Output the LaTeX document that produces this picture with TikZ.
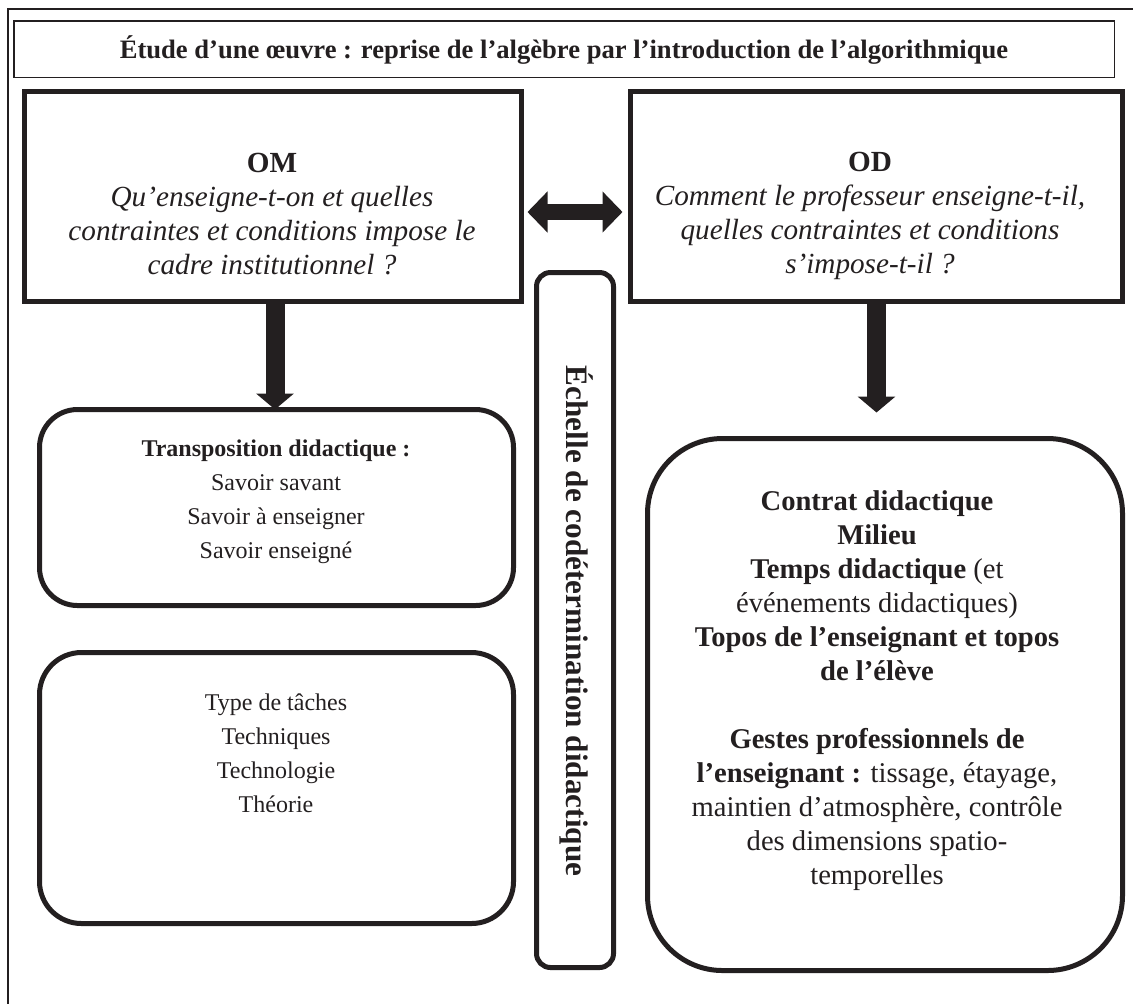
\documentclass[tikz,border=0pt]{standalone}
\usepackage{fontspec}
\setmainfont{Liberation Serif}
\usetikzlibrary{arrows.meta}
\definecolor{ink}{HTML}{231F20}
\begin{document}
\begin{tikzpicture}[x=0.5pt,y=-0.5pt,
  thinbox/.style={draw=ink, line width=0.75pt, inner sep=0pt, outer sep=0pt},
  heavybox/.style={draw=ink, line width=2.5pt, inner sep=0pt, outer sep=0pt},
  txt/.style={text=ink, align=center, inner sep=0pt},
  downarrow/.style={draw=ink, line width=9.5pt, -{Triangle[width=18.5pt,length=8pt]}},
  bothway/.style={draw=ink, line width=8pt, {Triangle[width=20pt,length=10pt]}-{Triangle[width=20pt,length=10pt]}}
]
\useasboundingbox (0,0) rectangle (1133,1003);
\begin{scope}
\clip (0,0) rectangle (1133,1003);
\draw[thinbox] (8,9) rectangle (1200,1100);
\end{scope}

% title
\node[thinbox, minimum width=550.25pt, minimum height=28.25pt] (titlebox) at (564,49) {};
\node[txt, font=\bfseries\fontsize{13.3pt}{16pt}\selectfont] (title) at (564,50)
  {Étude d’une œuvre : reprise de l’algèbre par l’introduction de l’algorithmique};

% OM / OD boxes
\node[heavybox, minimum width=248.5pt, minimum height=105pt] (om) at (273,196.5) {};
\node[heavybox, minimum width=246pt, minimum height=105pt] (od) at (876.5,196.5) {};
\node[txt, font=\fontsize{14.6pt}{17pt}\selectfont] (omt) at (272,214)
  {\textbf{OM}\\ \textit{Qu’enseigne-t-on et quelles}\\ \textit{contraintes et conditions impose le}\\ \textit{cadre institutionnel ?}};
\node[txt, font=\fontsize{14.6pt}{17pt}\selectfont] (odt) at (870,216)
  {\textbf{OD}\\ \textit{Comment le professeur enseigne-t-il,}\\ \textit{quelles contraintes et conditions}\\ \textit{s’impose-t-il ?}};

% echelle
\node[heavybox, rounded corners=7pt, minimum width=38.5pt, minimum height=347.5pt] (ech) at (575,620) {};
\node[txt, rotate=-90, font=\bfseries\fontsize{15.6pt}{18pt}\selectfont] (echt) at (577,621)
  {Échelle de codétermination didactique};

% lower left boxes
\node[heavybox, rounded corners=19pt, minimum width=237pt, minimum height=98pt] (tp) at (276.5,507.5) {};
\node[txt, font=\fontsize{12pt}{17pt}\selectfont] (tpt) at (276,502)
  {\textbf{Transposition didactique :}\\ Savoir savant\\ Savoir à enseigner\\ Savoir enseigné};
\node[heavybox, rounded corners=21pt, minimum width=237pt, minimum height=135.5pt] (ty) at (276.5,788) {};
\node[txt, font=\fontsize{12pt}{17pt}\selectfont] (tyt) at (276,753)
  {Type de tâches\\ Techniques\\ Technologie\\ Théorie};

% lower right box
\node[heavybox, rounded corners=37.5pt, minimum width=237.5pt, minimum height=266pt] (lr) at (885,704.5) {};
\node[txt, font=\fontsize{14.3pt}{17pt}\selectfont] (lrt) at (877,691)
  {\textbf{Contrat didactique}\\ \textbf{Milieu}\\ \textbf{Temps didactique} (et\\ événements didactiques)\\
   \textbf{Topos de l’enseignant et topos}\\ \textbf{de l’élève}\\[17pt]
   \textbf{Gestes professionnels de}\\ \textbf{l’enseignant :} tissage, étayage,\\ maintien d’atmosphère, contrôle\\
   des dimensions spatio-\\ temporelles};

% arrows
\coordinate (ay) at (0,212);
\draw[bothway, shorten <=3pt, shorten >=4pt] (om.east |- ay) -- (od.west |- ay);
\draw[downarrow] ([xshift=1pt]om.south) -- ([xshift=1pt]om.south |- tp.north);
\draw[downarrow, shorten >=13pt] (od.south) -- (od.south |- lr.north);
\end{tikzpicture}
\end{document}
